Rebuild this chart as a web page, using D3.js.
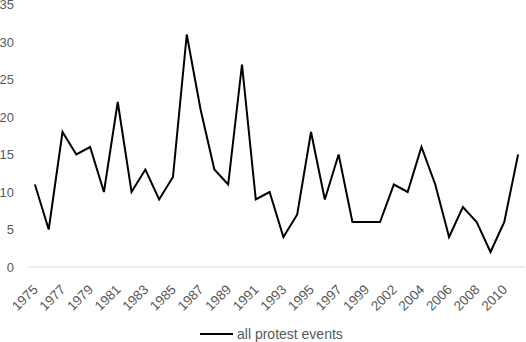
<!DOCTYPE html>
<html>
<head>
<meta charset="utf-8">
<script src="https://cdn.jsdelivr.net/npm/d3@7"></script>
<style>
  body { margin: 0; background: #fff; }
  text { font-family: "Liberation Sans", Arial, sans-serif; fill: #595959; }
</style>
</head>
<body>
<div class="chart"></div>
<script>
// years (one year between 1999 and 2002 is absent in the source)
var years = [1975, 1976, 1977, 1978, 1979, 1980, 1981, 1982, 1983, 1984,
    1985, 1986, 1987, 1988, 1989, 1990, 1991, 1992, 1993, 1994,
    1995, 1996, 1997, 1998, 1999, 2001, 2002, 2003, 2004, 2005,
    2006, 2007, 2008, 2009, 2010, 2011];
var protestEvents = [11, 5, 18, 15, 16, 10, 22, 10, 13, 9,
    12, 31, 21, 13, 11, 27, 9, 10, 4, 7,
    18, 9, 15, 6, 6, 6, 11, 10, 16, 11,
    4, 8, 6, 2, 6, 15];
var yTicks = [0, 5, 10, 15, 20, 25, 30, 35];
var seriesName = "all protest events";

var width = 526, height = 342;
var margin = {top: 4.5, right: 1, bottom: 75, left: 28};

var svg = d3.select(".chart")
    .append("svg")
    .attr("width", width)
    .attr("height", height);

// x scale: one band per year, points in the middle of each band
var x = d3.scaleBand()
    .domain(years)
    .range([margin.left, width - margin.right]);

var y = d3.scaleLinear()
    .domain([0, 35])
    .range([height - margin.bottom, margin.top]);

// baseline
svg.append("line")
    .attr("x1", margin.left)
    .attr("x2", width - margin.right)
    .attr("y1", y(0))
    .attr("y2", y(0))
    .attr("stroke", "#d9d9d9")
    .attr("stroke-width", 1);

// y tick labels
svg.append("g")
    .selectAll("text")
    .data(yTicks)
    .join("text")
    .attr("x", 14)
    .attr("y", d => y(d))
    .attr("dy", "0.35em")
    .attr("text-anchor", "end")
    .style("font-size", "13px")
    .text(d => d);

// x tick labels, every second year, rotated
svg.append("g")
    .selectAll("text")
    .data(years.filter((d, i) => i % 2 === 0))
    .join("text")
    .attr("transform", d => `translate(${x(d) + x.bandwidth() / 2 + 0.5},${y(0) + 20}) rotate(-45)`)
    .attr("text-anchor", "end")
    .attr("dy", "0.35em")
    .style("font-size", "13.5px")
    .text(d => d);

// the line
var line = d3.line()
    .x((d, i) => x(years[i]) + x.bandwidth() / 2)
    .y(d => y(d));

svg.append("path")
    .datum(protestEvents)
    .attr("d", line)
    .attr("fill", "none")
    .attr("stroke", "#000")
    .attr("stroke-width", 2)
    .attr("stroke-linejoin", "miter");

// legend
var legend = svg.append("g");
legend.append("line")
    .attr("x1", 200)
    .attr("x2", 233)
    .attr("y1", 334)
    .attr("y2", 334)
    .attr("stroke", "#000")
    .attr("stroke-width", 2);
legend.append("text")
    .attr("x", 237)
    .attr("y", 334)
    .attr("dy", "0.35em")
    .style("font-size", "14px")
    .text(seriesName);
</script>
</body>
</html>
